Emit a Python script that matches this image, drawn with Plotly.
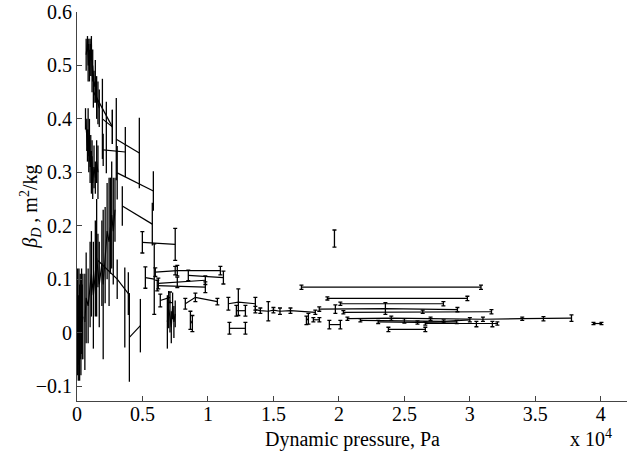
import plotly.graph_objects as go

# Each track: list of (dynamic pressure [Pa], beta_D [m^2/kg], error of beta_D)
track_a1 = [(700, 0.52, 0.03), (800, 0.545, 0.01), (850, 0.50, 0.03), (900, 0.54, 0.01), (950, 0.49, 0.02),
            (1000, 0.53, 0.02), (1050, 0.51, 0.03), (1100, 0.545, 0.01), (1150, 0.48, 0.03), (1200, 0.50, 0.03),
            (1300, 0.46, 0.03), (1400, 0.47, 0.04), (1500, 0.44, 0.04), (1600, 0.43, 0.04), (1700, 0.42, 0.035)]
track_a2 = [(650, 0.40, 0.02), (750, 0.37, 0.03), (800, 0.35, 0.03), (850, 0.38, 0.04), (900, 0.33, 0.03),
            (950, 0.36, 0.04), (1000, 0.31, 0.03), (1050, 0.34, 0.03), (1100, 0.30, 0.04), (1150, 0.33, 0.03),
            (1200, 0.28, 0.03), (1300, 0.31, 0.04), (1400, 0.29, 0.03), (1500, 0.32, 0.04), (1600, 0.30, 0.05)]
track_ta = [(1250, 0.451, 0.03), (2700, 0.385, 0.032)]
track_ta2 = [(1940, 0.40, 0.075), (2700, 0.385, 0.032)]
track_tp = [(2240, 0.365, 0.067)]
track_tb = [(3000, 0.362, 0.077), (4760, 0.336, 0.066)]
track_tc = [(2000, 0.342, 0.03), (3690, 0.338, 0.047)]
track_td = [(3070, 0.299, 0.05), (5830, 0.265, 0.037)]
track_te = [(3460, 0.237, 0.037), (5750, 0.203, 0.04)]
track_tf = [(4990, 0.169, 0.02), (7500, 0.165, 0.03)]

track_b1 = [(50, 0.02, 0.10), (100, -0.01, 0.08), (150, 0.03, 0.09), (200, 0.0, 0.09), (250, 0.03, 0.08),
            (300, 0.01, 0.09), (350, 0.04, 0.08), (400, 0.02, 0.07), (450, 0.03, 0.08)]
track_b2 = [(600, 0.02, 0.09), (700, 0.065, 0.085), (850, 0.05, 0.07), (1000, 0.09, 0.08), (1100, 0.11, 0.08),
            (1250, 0.07, 0.10), (1400, 0.12, 0.09), (1500, 0.14, 0.11), (1700, 0.09, 0.08), (1900, 0.13, 0.08),
            (2000, 0.09, 0.14), (2150, 0.145, 0.09), (2300, 0.19, 0.09), (2450, 0.17, 0.12), (2550, 0.20, 0.09),
            (2650, 0.22, 0.10), (2770, 0.19, 0.10), (2900, 0.23, 0.06)]
track_b3 = [(1600, 0.135, 0.05), (3070, 0.10, 0.037), (3920, 0.073, 0.04)]
track_b5 = [(3650, 0.047, 0.075)]
track_b4 = [(4000, -0.009, 0.083), (4840, 0.013, 0.05)]

track_c1 = [(5220, 0.103, 0.02), (5900, 0.10, 0.066)]
track_c2 = [(5980, 0.113, 0.008), (7500, 0.116, 0.008), (7660, 0.116, 0.01), (10950, 0.116, 0.008)]
track_c3 = [(8500, 0.107, 0.01), (11180, 0.103, 0.012)]
track_c4 = [(6210, 0.092, 0.01), (7660, 0.094, 0.01), (9800, 0.098, 0.008)]
track_c5 = [(6130, 0.088, 0.01), (9800, 0.085, 0.01)]
track_c6 = [(6360, 0.06, 0.012), (7100, 0.066, 0.01)]
track_c7 = [(8270, 0.054, 0.01), (9040, 0.066, 0.008), (10720, 0.058, 0.006)]
track_c8 = [(6900, 0.02, 0.05), (7000, 0.043, 0.035), (7100, 0.03, 0.03), (7200, 0.01, 0.03),
            (7300, 0.05, 0.025), (7400, 0.02, 0.03), (7500, 0.035, 0.025)]
track_c9 = [(8660, 0.023, 0.017), (8810, 0.017, 0.015)]
track_c10 = [(11560, 0.054, 0.012), (12320, 0.057, 0.025), (13620, 0.054, 0.012)]
track_c11 = [(12170, 0.041, 0.01), (12860, 0.041, 0.01)]
track_c12 = [(11640, 0.008, 0.011), (12860, 0.008, 0.011)]

track_d1 = [(13620, 0.043, 0.006), (14000, 0.041, 0.005), (14610, 0.04, 0.018), (15000, 0.042, 0.005),
            (15500, 0.04, 0.006), (16300, 0.041, 0.005), (18200, 0.038, 0.004)]
track_d2 = [(17520, 0.023, 0.008), (17670, 0.026, 0.01)]
track_d2b = [(18050, 0.024, 0.004), (18510, 0.024, 0.004)]
track_d3 = [(19270, 0.015, 0.008), (20110, 0.015, 0.008)]
track_d4 = [(19660, 0.176, 0.016)]

track_l1 = [(17140, 0.085, 0.004), (30850, 0.085, 0.004)]
track_l2 = [(19120, 0.064, 0.003), (29810, 0.064, 0.004)]
track_l3 = [(20110, 0.054, 0.003), (27980, 0.054, 0.004)]
track_l4 = [(18500, 0.044, 0.004), (19730, 0.044, 0.008), (23550, 0.045, 0.011), (29050, 0.043, 0.004)]
track_l5 = [(20340, 0.038, 0.003), (26400, 0.039, 0.003), (31650, 0.039, 0.004)]
track_l6a = [(20650, 0.026, 0.003), (24000, 0.027, 0.004), (27000, 0.026, 0.003), (31000, 0.025, 0.004),
             (34000, 0.026, 0.003), (35620, 0.026, 0.004), (37760, 0.027, 0.006)]
track_l6b = [(21640, 0.023, 0.003), (25000, 0.022, 0.004), (28000, 0.021, 0.003), (30000, 0.024, 0.004)]
track_l6c = [(23000, 0.02, 0.003), (26000, 0.019, 0.003), (29000, 0.02, 0.003)]
track_l7 = [(26600, 0.017, 0.003), (30500, 0.016, 0.005), (31720, 0.016, 0.005), (32100, 0.017, 0.003)]
track_l8 = [(23780, 0.006, 0.004), (26600, 0.006, 0.004)]
track_l9 = [(39440, 0.017, 0.002), (40050, 0.017, 0.002)]

# low-pressure tracks (drawn without visible caps)
tracks_low = [track_a1, track_a2, track_ta, track_ta2, track_tp, track_tb, track_tc, track_td, track_te,
              track_b1, track_b2, track_b3, track_b5, track_b4, track_c8]
# remaining tracks (small caps)
tracks_high = [track_tf, track_c1, track_c2, track_c3, track_c4, track_c5, track_c6, track_c7, track_c9,
               track_c10, track_c11, track_c12,
               track_d1, track_d2, track_d2b, track_d3, track_d4,
               track_l1, track_l2, track_l3, track_l4, track_l5, track_l6a, track_l6b, track_l6c,
               track_l7, track_l8, track_l9]

x_ticks = [0, 5000, 10000, 15000, 20000, 25000, 30000, 35000, 40000]
x_tick_labels = ["0", "0.5", "1", "1.5", "2", "2.5", "3", "3.5", "4"]
y_ticks = [-0.1, 0, 0.1, 0.2, 0.3, 0.4, 0.5, 0.6]
y_tick_labels = ["\u22120.1", "0", "0.1", "0.2", "0.3", "0.4", "0.5", "0.6"]

FONT = "Liberation Serif, Times New Roman, serif"

fig = go.Figure()
for group, cap in ((tracks_low, 0), (tracks_high, 2)):
    for tr in group:
        q = [p[0] for p in tr]
        b = [p[1] for p in tr]
        e = [p[2] for p in tr]
        fig.add_trace(go.Scatter(
            x=q, y=b, mode="lines",
            line=dict(color="black", width=1.2),
            error_y=dict(type="data", array=e, color="black", thickness=1.3, width=cap),
            showlegend=False, hoverinfo="skip"))

fig.update_layout(
    width=628, height=462,
    margin=dict(l=77, r=1, t=12, b=61),
    paper_bgcolor="white", plot_bgcolor="white",
    font=dict(family=FONT, size=20, color="black"),
    xaxis=dict(range=[0, 42000], tickvals=x_ticks, ticktext=x_tick_labels,
               showgrid=False, zeroline=False, showline=True, linecolor="#444", linewidth=1,
               ticks="inside", ticklen=5, tickcolor="#444", tickfont=dict(size=20),
               ticklabelstandoff=-5),
    yaxis=dict(range=[-0.128, 0.6], tickvals=y_ticks, ticktext=y_tick_labels,
               showgrid=False, zeroline=False, showline=True, linecolor="#444", linewidth=1,
               ticks="inside", ticklen=5, tickcolor="#444", tickfont=dict(size=20)),
    annotations=[
        dict(text="Dynamic pressure, Pa", xref="paper", yref="paper", x=0.5, y=-0.1,
             xanchor="center", yanchor="middle", showarrow=False, font=dict(size=20)),
        dict(text="x 10<sup>4</sup>", xref="paper", yref="paper", x=0.935, y=-0.095,
             xanchor="center", yanchor="middle", showarrow=False, font=dict(size=20)),
        dict(text="<i>\u03b2</i><sub><i>D</i></sub> , m<sup>2</sup>/kg", xref="paper", yref="paper",
             x=-0.085, y=0.5, xanchor="center", yanchor="middle", textangle=-90,
             showarrow=False, font=dict(size=20)),
    ],
)

fig.write_html("out.html")
